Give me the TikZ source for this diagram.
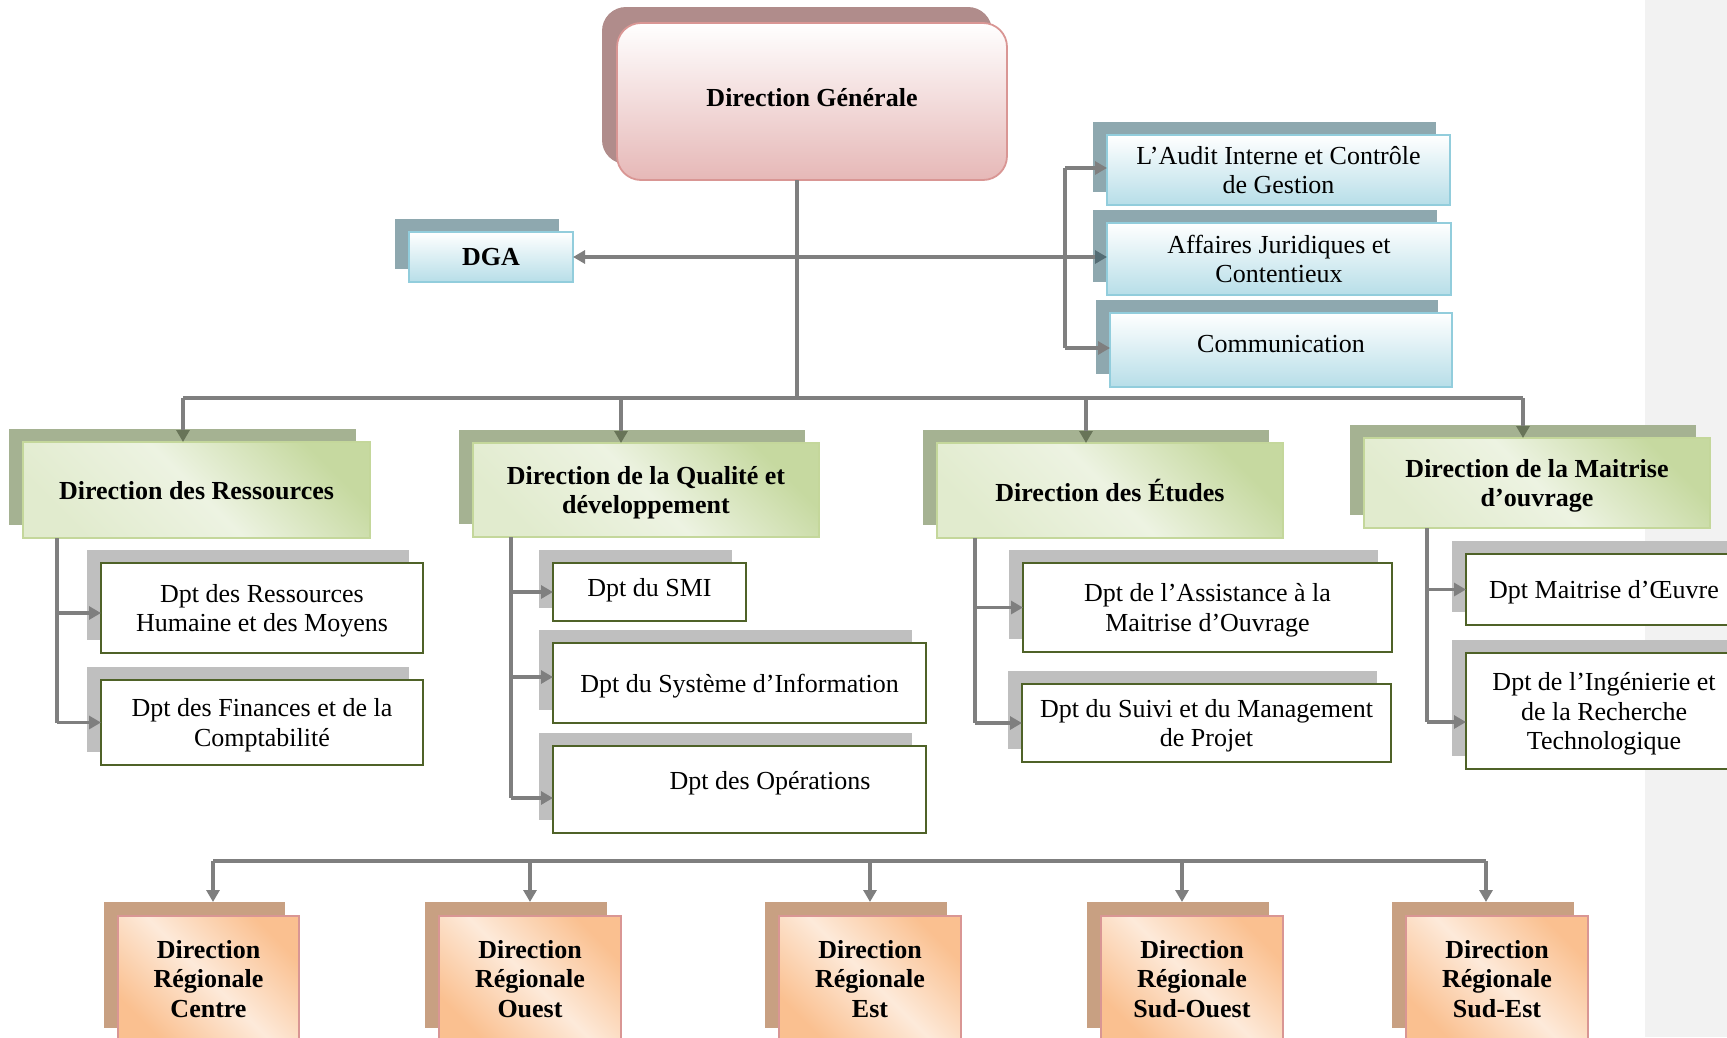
\documentclass[tikz,border=0pt]{standalone}
\usepackage{fontspec}
\setmainfont{Liberation Serif}
\usetikzlibrary{arrows.meta,shadows}

\definecolor{linegray}{RGB}{127,127,127}
\definecolor{bandgray}{RGB}{242,242,242}
\definecolor{dgfill}{RGB}{230,184,183}
\definecolor{dgborder}{RGB}{217,150,148}
\definecolor{dgshadow}{RGB}{176,140,139}
\definecolor{bluefill}{RGB}{183,222,232}
\definecolor{blueborder}{RGB}{146,205,220}
\definecolor{blueshadow}{RGB}{142,168,175}
\definecolor{bluetip}{RGB}{84,108,116}
\definecolor{greenlight}{RGB}{237,243,226}
\definecolor{greendark}{RGB}{198,217,160}
\definecolor{greenborder}{RGB}{196,215,155}
\definecolor{greenshadow}{RGB}{165,178,146}
\definecolor{greentip}{RGB}{104,116,88}
\definecolor{dptborder}{RGB}{79,98,40}
\definecolor{dptshadow}{RGB}{191,191,191}
\definecolor{orangedark}{RGB}{250,192,144}
\definecolor{orangelight}{RGB}{253,234,218}
\definecolor{orangeborder}{RGB}{217,150,148}
\definecolor{orangeshadow}{RGB}{200,160,130}

\begin{document}
\begin{tikzpicture}[x=1pt,y=-1pt,
  basebox/.style={font=\fontsize{26}{29.5}\selectfont, align=center,
    inner sep=0pt, outer sep=0pt},
  bold/.style={font=\fontsize{26}{29.5}\selectfont\bfseries},
  boxsize/.style 2 args={minimum width=#1pt, minimum height=#2pt},
  dgbox/.style={basebox, bold, rounded corners=24pt, draw=dgborder,
    line width=1.8pt, top color=white, bottom color=dgfill,
    drop shadow={shadow xshift=-15pt, shadow yshift=16pt, fill=dgshadow, opacity=1}},
  staffbox/.style={basebox, draw=blueborder, line width=2pt,
    top color=white, bottom color=bluefill,
    drop shadow={shadow xshift=-14pt, shadow yshift=13pt, fill=blueshadow, opacity=1}},
  dirbox/.style={basebox, bold, text depth=0pt, draw=greenborder, line width=2pt,
    top color=greendark, bottom color=greenlight!70!greendark,
    middle color=greenlight, shading angle=-45,
    drop shadow={shadow xshift=-14pt, shadow yshift=13pt, fill=greenshadow, opacity=1}},
  dptbox/.style={basebox, text depth=0pt, draw=dptborder, line width=2.2pt, fill=white,
    drop shadow={shadow xshift=-14pt, shadow yshift=13pt, fill=dptshadow, opacity=1}},
  regbox/.style={basebox, bold, draw=orangeborder, line width=2pt,
    top color=orangedark, bottom color=orangedark,
    middle color=orangelight, shading angle=-45,
    drop shadow={shadow xshift=-14pt, shadow yshift=14pt, fill=orangeshadow, opacity=1}},
  conn/.style={draw=linegray, line width=3.2pt},
  arr/.style={conn, -{Triangle[length=12pt,width=13pt]}},
  greenarr/.style={conn, -{Triangle[length=12pt,width=13pt,color=greentip]}},
  twoarr/.style={conn, {Triangle[length=12pt,width=13pt]}-{Triangle[length=12pt,width=13pt,color=bluetip]}}
]
\useasboundingbox (0,0) rectangle (1727,1037);
\clip (0,0) rectangle (1727,1037);

% page margin band
\fill[bandgray] (1645,0) rectangle (1727,1037);

% general management and staff units
\node[dgbox, boxsize={390}{157}, text depth=8pt] (dg) at (812,101.5) {Direction Générale};
\node[staffbox, bold, boxsize={164}{50}] (dga) at (491,257) {DGA};
\node[staffbox, boxsize={343}{70}] (audit) at (1278.5,170) {L’Audit Interne et Contrôle\\de Gestion};
\node[staffbox, boxsize={344}{72}] (aff) at (1279,259) {Affaires Juridiques et\\Contentieux};
\node[staffbox, boxsize={342}{74}, text depth=12pt] (comm) at (1281,350) {Communication};

% directions
\node[dirbox, boxsize={347}{96}] (dres) at (196.5,490) {Direction des Ressources};
\node[dirbox, boxsize={346}{94}] (dqual) at (646,490) {Direction de la Qualité et\\développement};
\node[dirbox, boxsize={346}{95}] (detu) at (1110,490.5) {Direction des Études};
\node[dirbox, boxsize={346}{90}] (dmoa) at (1537,483) {Direction de la Maitrise\\d’ouvrage};

% departments
\node[dptbox, boxsize={322}{90}] (drh) at (262,608) {Dpt des Ressources\\Humaine et des Moyens};
\node[dptbox, boxsize={322}{85}] (dfin) at (262,722.5) {Dpt des Finances et de la\\Comptabilité};
\node[dptbox, boxsize={193}{58}, text depth=10pt] (dsmi) at (649.5,592) {Dpt du SMI};
\node[dptbox, boxsize={373}{80}] (dsi) at (739.5,683) {Dpt du Système d’Information};
\node[dptbox, boxsize={373}{87}] (dops) at (739.5,789.5) {};
\node[basebox] (opstext) at (770,783) {Dpt des Opérations};
\node[dptbox, boxsize={369}{89}] (dass) at (1207.5,607.5) {Dpt de l’Assistance à la\\Maitrise d’Ouvrage};
\node[dptbox, boxsize={369}{78}] (dsuivi) at (1206.5,723) {Dpt du Suivi et du Management\\de Projet};
\node[dptbox, boxsize={276}{71}] (dmoe) at (1604,589.5) {Dpt Maitrise d’Œuvre};
\node[dptbox, boxsize={276}{116}] (ding) at (1604,711) {Dpt de l’Ingénierie et\\de la Recherche\\Technologique};

% regional directions
\node[regbox, boxsize={181}{126}] (rcen) at (208.5,979) {Direction\\Régionale\\Centre};
\node[regbox, boxsize={182}{126}] (rouest) at (530,979) {Direction\\Régionale\\Ouest};
\node[regbox, boxsize={182}{126}] (rest) at (870,979) {Direction\\Régionale\\Est};
\node[regbox, boxsize={182}{126}] (rso) at (1192,979) {Direction\\Régionale\\Sud-Ouest};
\node[regbox, boxsize={182}{126}] (rse) at (1497,979) {Direction\\Régionale\\Sud-Est};

% junction points
\coordinate (hub) at (797,398);
\coordinate (tl) at (183,398);
\coordinate (tq) at (621,398);
\coordinate (te) at (1086,398);
\coordinate (tr) at (1523,398);
\coordinate (btop) at (1065,168);
\coordinate (bbot) at (1065,348);
\coordinate (rx) at (57,0);
\coordinate (qx) at (511,0);
\coordinate (ex) at (975,0);
\coordinate (mx) at (1427,0);
\coordinate (rha) at ([yshift=-5pt]drh.west);
\coordinate (sia) at ([yshift=6pt]dsi.west);
\coordinate (opsa) at ([yshift=-8.5pt]dops.west);
\coordinate (inga) at ([yshift=-11pt]ding.west);
\coordinate (bl) at (213,861);
\coordinate (bo) at (530,861);
\coordinate (be) at (870,861);
\coordinate (bso) at (1182,861);
\coordinate (br) at (1486,861);
\coordinate (rcent) at ([yshift=14pt]rcen.north);
\coordinate (rouestt) at ([yshift=14pt]rouest.north);
\coordinate (restt) at ([yshift=14pt]rest.north);
\coordinate (rsot) at ([yshift=14pt]rso.north);
\coordinate (rset) at ([yshift=14pt]rse.north);

% top level links
\draw[conn] (dg.south -| hub) -- (hub);
\draw[twoarr] (dga.east) -- (aff.west |- dga.east);
\draw[conn] (btop) -- (bbot);
\draw[arr] (btop) -- (audit.west |- btop);
\draw[arr] (bbot) -- (comm.west |- bbot);

% directions bus
\draw[conn] (tl) -- (tr);
\draw[greenarr] (tl) -- (tl |- dres.north);
\draw[greenarr] (tq) -- (tq |- dqual.north);
\draw[greenarr] (te) -- (te |- detu.north);
\draw[greenarr] (tr) -- (tr |- dmoa.north);

% departments
\draw[conn] (dres.south -| rx) -- (rx |- dfin.west);
\draw[arr] (rha -| rx) -- (rha);
\draw[arr] (dfin.west -| rx) -- (dfin.west);

\draw[conn] (dqual.south -| qx) -- (qx |- opsa);
\draw[arr] (dsmi.west -| qx) -- (dsmi.west);
\draw[arr] (sia -| qx) -- (sia);
\draw[arr] (opsa -| qx) -- (opsa);

\draw[conn] (detu.south -| ex) -- (ex |- dsuivi.west);
\draw[arr] (dass.west -| ex) -- (dass.west);
\draw[arr] (dsuivi.west -| ex) -- (dsuivi.west);

\draw[conn] (dmoa.south -| mx) -- (mx |- inga);
\draw[arr] (dmoe.west -| mx) -- (dmoe.west);
\draw[arr] (inga -| mx) -- (inga);

% regional bus
\draw[conn] (bl) -- (br);
\draw[arr] (bl) -- (bl |- rcent);
\draw[arr] (bo) -- (bo |- rouestt);
\draw[arr] (be) -- (be |- restt);
\draw[arr] (bso) -- (bso |- rsot);
\draw[arr] (br) -- (br |- rset);
\end{tikzpicture}
\end{document}
